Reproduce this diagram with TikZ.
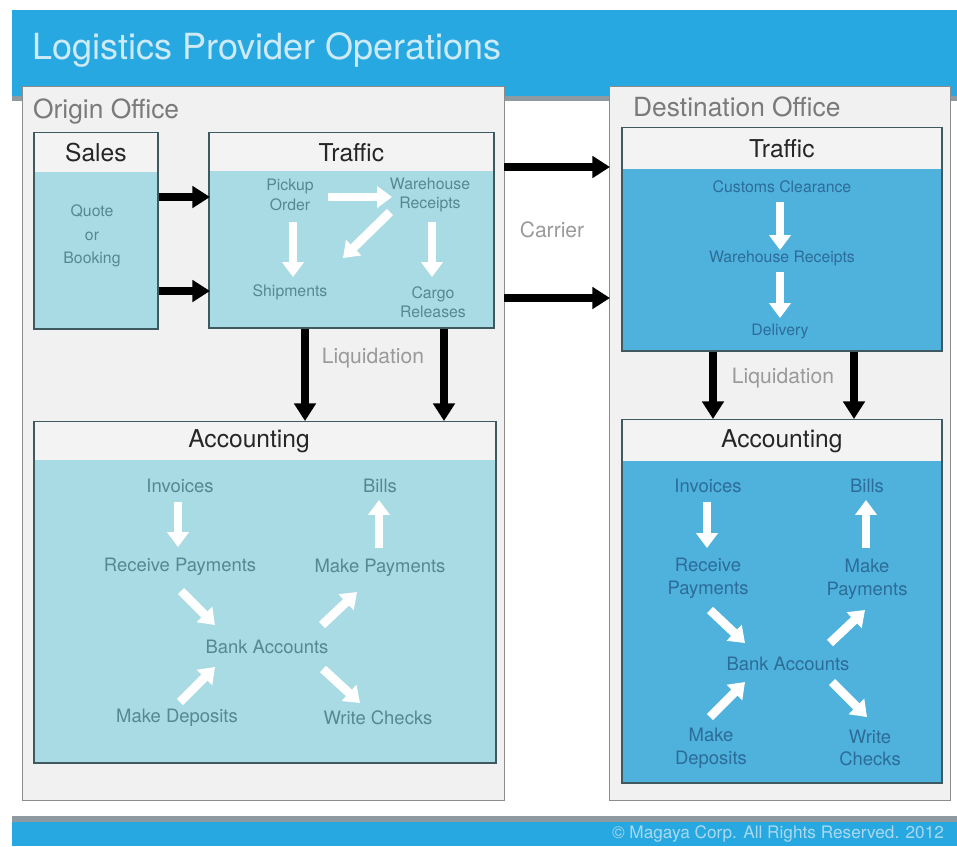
\documentclass[tikz,border=0pt]{standalone}
\usepackage{fontspec}
\setmainfont{TeX Gyre Heros}
\usepackage{tikz}
\usetikzlibrary{positioning}
\usetikzlibrary{calc}
\usetikzlibrary{arrows.meta}

\definecolor{bandblue}{HTML}{27A8E0}
\definecolor{bandshade}{HTML}{8E9AA0}
\definecolor{titletext}{HTML}{CDEAF7}
\definecolor{foottext}{HTML}{A9D9F0}
\definecolor{officefill}{HTML}{F1F1F1}
\definecolor{officeline}{HTML}{8C8C8C}
\definecolor{officetext}{HTML}{7A7A7A}
\definecolor{headfill}{HTML}{F3F3F3}
\definecolor{headtext}{HTML}{262626}
\definecolor{lightbody}{HTML}{A8DBE3}
\definecolor{darkbody}{HTML}{4FB2DD}
\definecolor{panelline}{HTML}{3E5A60}
\definecolor{lighttext}{HTML}{568892}
\definecolor{darktext}{HTML}{2C6C98}
\definecolor{graytext}{HTML}{9A9A9A}

\tikzset{
    office/.style={draw=officeline, fill=officefill, line width=0.8pt, anchor=north west, inner sep=0pt},
    panel/.style={draw=panelline, line width=1pt, anchor=north west, inner sep=0pt},
    head/.style={fill=headfill, anchor=north, inner sep=0pt, text=headtext, font=\fontsize{14}{16}\selectfont},
    smalltxt/.style={text=lighttext, align=center, font=\fontsize{9}{11}\selectfont},
    acctxt/.style={text=lighttext, align=center, font=\fontsize{10.5}{13}\selectfont},
    greytxt/.style={text=graytext, font=\fontsize{12}{14}\selectfont},
    bigarrow/.style={draw=black, line width=4pt, -{Triangle[width=12pt,length=10pt]}},
    whitearrow/.style={draw=white, line width=5pt, -{Triangle[width=12pt,length=8.5pt]}}
}

\begin{document}
\begin{tikzpicture}[x=0.02cm,y=-0.02cm]
    \useasboundingbox (0,0) rectangle (957,846);

    % title band and footer
    \fill[bandblue] (12,10) rectangle (957,101);
    \fill[bandshade] (12,96) rectangle (957,101);
    \node[anchor=west, text=titletext, font=\fontsize{20.5}{24}\selectfont] (title) at (26,50) {Logistics Provider Operations};
    \fill[bandshade] (12,816) rectangle (957,822);
    \fill[bandblue] (12,822) rectangle (957,846);
    \node[text=foottext, font=\fontsize{9.8}{11}\selectfont] (copy) at (778,834) {© Magaya Corp. All Rights Reserved. 2012};

    % offices
    \node[office, minimum width=9.64cm, minimum height=14.28cm] (ori) at (22,86) {};
    \node[office, minimum width=6.82cm, minimum height=14.28cm] (dst) at (609,86) {};
    \node[anchor=west, text=officetext, font=\fontsize{15}{17}\selectfont] (oriT) at (27,112) {Origin Office};
    \node[anchor=west, text=officetext, font=\fontsize{15}{17}\selectfont] (dstT) at (627,107) {Destination Office};

    % panels
    \node[panel, fill=lightbody, minimum width=2.48cm, minimum height=3.92cm] (sales) at (33,132) {};
    \node[head, minimum width=2.44cm, minimum height=0.78cm] (salesH) at ([yshift=-0.5pt]sales.north) {Sales};

    \node[panel, fill=lightbody, minimum width=5.70cm, minimum height=3.90cm] (traf) at (208,132) {};
    \node[head, minimum width=5.66cm, minimum height=0.76cm] (trafH) at ([yshift=-0.5pt]traf.north) {Traffic};

    \node[panel, fill=darkbody, minimum width=6.40cm, minimum height=4.46cm] (trafD) at (621,127) {};
    \node[head, minimum width=6.36cm, minimum height=0.82cm] (trafDH) at ([yshift=-0.5pt]trafD.north) {Traffic};

    \node[panel, fill=lightbody, minimum width=9.24cm, minimum height=6.82cm] (acc) at (33,421) {};
    \node[head, minimum width=9.20cm, minimum height=0.76cm] (accH) at ([yshift=-0.5pt]acc.north) {\hspace*{-18pt}Accounting};

    \node[panel, fill=darkbody, minimum width=6.40cm, minimum height=7.26cm] (accD) at (621,419) {};
    \node[head, minimum width=6.36cm, minimum height=0.82cm] (accDH) at ([yshift=-0.5pt]accD.north) {Accounting};

    % sales
    \node[smalltxt, font=\fontsize{9}{13.5}\selectfont] (qb) at (92,236) {Quote\\or\\Booking};

    % origin traffic
    \node[smalltxt] (po) at (290,195) {Pickup\\Order};
    \node[smalltxt] (wr) at (430,195) {Warehouse\\Receipts};
    \node[smalltxt] (sh) at (290,292) {Shipments};
    \node[smalltxt] (cr) at (433,302) {Cargo\\Releases};
    \draw[whitearrow] ($(po)+(38,2)$) -- ($(wr)+(-38,2)$);
    \draw[whitearrow] ($(wr)+(-40,17)$) -- ($(sh)+(53,-34)$);
    \draw[whitearrow] ($(po)+(3,27)$) -- ($(sh)+(3,-15)$);
    \draw[whitearrow] ($(wr)+(2,27)$) -- ($(cr)+(-1,-25)$);

    % destination traffic
    \node[smalltxt, text=darktext] (cc) at (782,187) {Customs Clearance};
    \node[smalltxt, text=darktext] (wrD) at (782,258) {Warehouse Receipts};
    \node[smalltxt, text=darktext] (dl) at (780,331) {Delivery};
    \draw[whitearrow] ($(cc)+(-2,15)$) -- ($(wrD)+(-2,-8)$);
    \draw[whitearrow] ($(wrD)+(-2,14)$) -- ($(dl)+(0,-13)$);

    % origin accounting
    \node[acctxt] (inv) at (180,486) {Invoices};
    \node[acctxt] (bil) at (380,486) {Bills};
    \node[acctxt] (rp) at (180,567) {Receive Payments};
    \node[acctxt] (mp) at (380,568) {Make Payments};
    \node[acctxt] (ba) at (267,647) {Bank Accounts};
    \node[acctxt] (md) at (177,718) {Make Deposits};
    \node[acctxt] (wc) at (378,718) {Write Checks};
    \draw[whitearrow] ($(inv)+(-2,16)$) -- ($(rp)+(-2,-20)$);
    \draw[whitearrow] ($(mp)+(-1,-20)$) -- ($(bil)+(-1,14)$);
    \draw[whitearrow] ($(rp)+(1,24)$) -- ($(ba)+(-52,-22)$);
    \draw[whitearrow] ($(ba)+(55,-22)$) -- ($(mp)+(-23,24)$);
    \draw[whitearrow] ($(md)+(3,-16)$) -- ($(ba)+(-52,20)$);
    \draw[whitearrow] ($(ba)+(56,22)$) -- ($(wc)+(-18,-15)$);

    % destination accounting
    \node[acctxt, text=darktext] (invD) at (708,486) {Invoices};
    \node[acctxt, text=darktext] (bilD) at (867,486) {Bills};
    \node[acctxt, text=darktext] (rpD) at (708,578) {Receive\\Payments};
    \node[acctxt, text=darktext] (mpD) at (867,579) {Make\\Payments};
    \node[acctxt, text=darktext] (baD) at (788,664) {Bank Accounts};
    \node[acctxt, text=darktext] (mdD) at (711,748) {Make\\Deposits};
    \node[acctxt, text=darktext] (wcD) at (870,748) {Write\\Checks};
    \draw[whitearrow] ($(invD)+(-1,16)$) -- ($(rpD)+(-1,-30)$);
    \draw[whitearrow] ($(mpD)+(-1,-31)$) -- ($(bilD)+(-1,14)$);
    \draw[whitearrow] ($(rpD)+(2,32)$) -- ($(baD)+(-43,-21)$);
    \draw[whitearrow] ($(baD)+(42,-21)$) -- ($(mpD)+(-2,31)$);
    \draw[whitearrow] ($(mdD)+(-1,-31)$) -- ($(baD)+(-43,18)$);
    \draw[whitearrow] ($(baD)+(44,18)$) -- ($(wcD)+(-3,-31)$);

    % black arrows between sections
    \draw[bigarrow] ($(sales.north east)+(0,65)$) -- ($(traf.north west)+(2,65)$);
    \draw[bigarrow] ($(sales.north east)+(0,159)$) -- ($(traf.north west)+(2,159)$);
    \draw[bigarrow] ($(ori.north east)+(-1,81)$) -- ($(dst.north west)+(1,81)$);
    \draw[bigarrow] ($(ori.north east)+(-1,212)$) -- ($(dst.north west)+(1,212)$);
    \node[greytxt] (car) at (552,230) {Carrier};

    \draw[bigarrow] ($(traf.south west)+(97,0)$) -- ($(acc.north west)+(272,0)$);
    \draw[bigarrow] ($(traf.south west)+(236,0)$) -- ($(acc.north west)+(411,0)$);
    \node[greytxt] (liq) at (373,358) {Liquidation};

    \draw[bigarrow] ($(trafD.south west)+(92,0)$) -- ($(accD.north west)+(92,0)$);
    \draw[bigarrow] ($(trafD.south west)+(233,0)$) -- ($(accD.north west)+(233,0)$);
    \node[greytxt] (liqD) at (783,378) {Liquidation};
\end{tikzpicture}
\end{document}
